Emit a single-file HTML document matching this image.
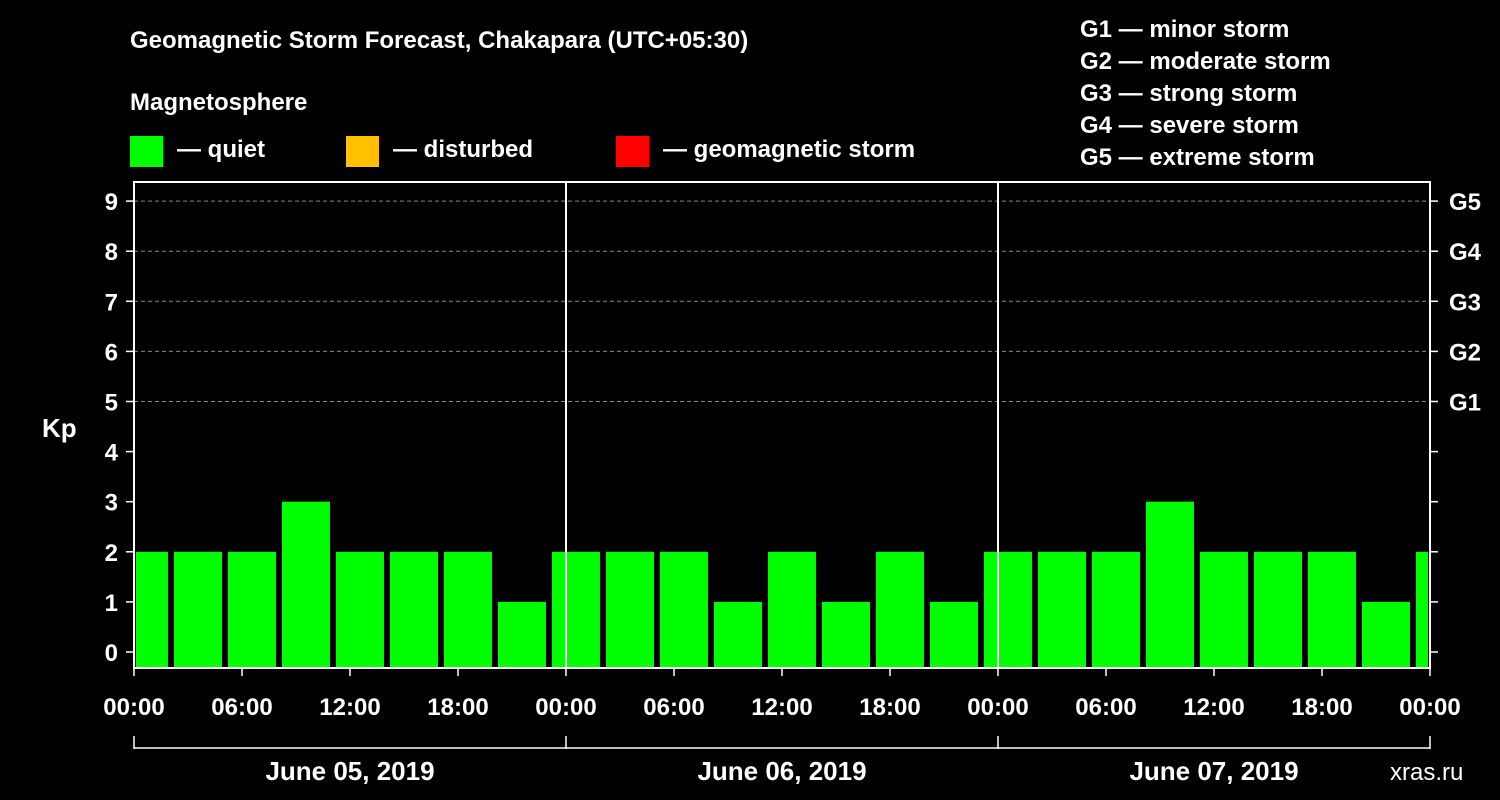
<!DOCTYPE html>
<html><head><meta charset="utf-8"><style>
html,body{margin:0;padding:0;background:#000;}
svg{display:block;font-family:"Liberation Sans",Arial,sans-serif;font-weight:bold;}
</style></head><body>
<svg id="chart" width="1500" height="800" xmlns="http://www.w3.org/2000/svg">
<rect width="1500" height="800" fill="#000"/>
<text x="130" y="48" fill="#fff" font-size="24">Geomagnetic Storm Forecast, Chakapara (UTC+05:30)</text>
<text x="130" y="110" fill="#fff" font-size="24">Magnetosphere</text>
<g><rect x="130" y="136" width="33" height="31" fill="#00ff00"/><text x="177" y="157" fill="#fff" font-size="24">— quiet</text></g>
<g><rect x="346" y="136" width="33" height="31" fill="#ffc000"/><text x="393" y="157" fill="#fff" font-size="24">— disturbed</text></g>
<g><rect x="616" y="136" width="33" height="31" fill="#ff0000"/><text x="663" y="157" fill="#fff" font-size="24">— geomagnetic storm</text></g>
<g fill="#fff" font-size="24">
<text x="1080" y="37">G1 — minor storm</text>
<text x="1080" y="69">G2 — moderate storm</text>
<text x="1080" y="101">G3 — strong storm</text>
<text x="1080" y="133">G4 — severe storm</text>
<text x="1080" y="165">G5 — extreme storm</text>
</g>
<text x="42" y="437" fill="#fff" font-size="26">Kp</text>
<text x="1390" y="780" fill="#fff" font-size="24" font-weight="normal">xras.ru</text>
<g id="grid"></g><g id="bars"></g><g id="axes"></g>
</svg>
<script>
const values=[2,2,2,3,2,2,2,1,2,2,2,1,2,1,2,1,2,2,2,3,2,2,2,1,2];
const yTicks=[0,1,2,3,4,5,6,7,8,9];
const gLabels=["G1","G2","G3","G4","G5"];
const xLabels=["00:00","06:00","12:00","18:00","00:00","06:00","12:00","18:00","00:00","06:00","12:00","18:00","00:00"];
const days=["June 05, 2019","June 06, 2019","June 07, 2019"];
const L=134,R=1430,T=182,B=668;
const y=v=>652-v*50.1;
const hx=h=>L+h*18; // hours since start
const NS="http://www.w3.org/2000/svg";
function mk(tag,at,parent,txt){const e=document.createElementNS(NS,tag);for(const k in at)e.setAttribute(k,at[k]);if(txt!==undefined)e.textContent=txt;document.getElementById(parent).appendChild(e);return e;}
yTicks.forEach(v=>{
  if(v>=5){const g=mk('line',{x1:L,x2:R,y1:y(v),y2:y(v),stroke:'#888','stroke-dasharray':'4,3','stroke-width':1},'grid');
  
  }
  const t=mk('text',{x:118,y:y(v)+9,fill:'#fff','font-size':24,'text-anchor':'end'},'axes',String(v));
  
  
  mk('line',{x1:L-8,x2:L,y1:y(v),y2:y(v),stroke:'#fff','stroke-width':1.5},'axes');
  mk('line',{x1:R,x2:R+8,y1:y(v),y2:y(v),stroke:'#fff','stroke-width':1.5},'axes');
});
gLabels.forEach((g,i)=>{const t=mk('text',{x:1449,y:y(5+i)+9,fill:'#fff','font-size':24},'axes',g);
  
  });
values.forEach((v,i)=>{
  let x0=hx(-0.78+3*i), x1=x0+48;
  x0=Math.max(x0,L+2); x1=Math.min(x1,R-2);
  const r=mk('rect',{x:x0,y:y(v),width:x1-x0,height:B-y(v),fill:'#00ff00'},'bars');
  
  
});
mk('rect',{x:L,y:T,width:R-L,height:B-T,fill:'none',stroke:'#fff','stroke-width':2},'axes');
[1,2].forEach(d=>mk('line',{x1:hx(24*d),x2:hx(24*d),y1:T,y2:B,stroke:'#fff','stroke-width':2},'axes'));
xLabels.forEach((s,i)=>{const x=hx(6*i);
  mk('line',{x1:x,x2:x,y1:B,y2:B+8,stroke:'#fff','stroke-width':1.5},'axes');
  const t=mk('text',{x:x,y:715,fill:'#fff','font-size':24,'text-anchor':'middle'},'axes',s);
  
  });
mk('line',{x1:L,x2:R,y1:748,y2:748,stroke:'#fff','stroke-width':1.5},'axes');
[0,1,2,3].forEach(d=>mk('line',{x1:hx(24*d),x2:hx(24*d),y1:736,y2:749,stroke:'#fff','stroke-width':1.5},'axes'));
days.forEach((s,i)=>{const t=mk('text',{x:hx(24*i+12),y:780,fill:'#fff','font-size':26,'text-anchor':'middle'},'axes',s);
  
  });
</script>
</body></html>
